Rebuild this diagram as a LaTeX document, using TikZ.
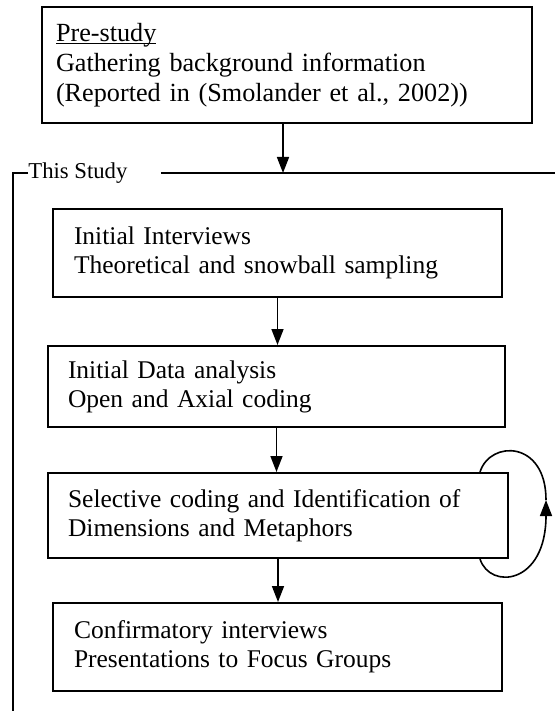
\documentclass[tikz,border=0pt]{standalone}
\usepackage{fontspec}
\setmainfont{Liberation Serif}
\usetikzlibrary{arrows.meta}

% underline close to the baseline
\newcommand{\baseul}[1]{\setbox0\hbox{#1}\rlap{\rule[-1.6pt]{\wd0}{0.6pt}}\box0}

\begin{document}
\begin{tikzpicture}[x=0.5pt, y=-0.5pt,
    stage/.style={draw, line width=1pt, align=left, inner ysep=0pt,
        font=\fontsize{12.75}{14.5}\selectfont},
    flow/.style={line width=0.8pt, -{Triangle[length=8pt, width=6pt]}},
    frame/.style={line width=1pt}]
    \useasboundingbox (0,0) rectangle (555,711);

    % Pre-study
    \node[stage, text width=231pt, inner xsep=7pt, minimum height=58pt,
        font=\fontsize{13.1}{15}\selectfont] (pre) at (287,65)
        {\baseul{Pre-study}\\Gathering background information\\(Reported in (Smolander et al., 2002))};

    % This Study frame
    \node[font=\fontsize{11.35}{13}\selectfont, anchor=west, inner sep=0pt] (study) at (28,173) {This Study};
    \coordinate (frameright) at (555,173);
    \coordinate (framebottom) at (13,711);
    \draw[frame] (study.west) -- (study.west -| framebottom) -- (framebottom);
    \draw[frame] ([xshift=16.5pt]study.east) -- (frameright);

    % Stages
    \node[stage, text width=203.5pt, inner xsep=10.5pt, minimum height=44pt] (interviews) at (277.5,253)
        {Initial Interviews\\Theoretical and snowball sampling};
    \node[stage, text width=208.5pt, inner xsep=10pt, minimum height=40.5pt] (analysis) at (276.5,386.5)
        {Initial Data analysis\\Open and Axial coding};
    \node[stage, text width=210pt, inner xsep=10pt, minimum height=42.5pt] (selective) at (278,515.5)
        {Selective coding and Identification of\\Dimensions and Metaphors};
    \node[stage, text width=203.5pt, inner xsep=10.5pt, minimum height=44pt] (confirm) at (277.5,647)
        {Confirmatory interviews\\Presentations to Focus Groups};

    % Arrows
    \coordinate (entry) at (283,173);
    \draw[flow] (pre.south -| entry) -- (entry);
    \foreach \a/\b in {interviews/analysis, analysis/selective, selective/confirm}
        \draw[flow] (\a.south) -- (\a.south |- \b.north);

    % Iteration loop
    \coordinate (loopx) at (480,0);
    \coordinate (loopmid) at (546,500);
    \draw[flow] (selective.south -| loopx) .. controls (490,590) and (546,585) .. (loopmid);
    \draw[line width=0.8pt] (loopmid) .. controls (546,440) and (490,440) .. (selective.north -| loopx);
\end{tikzpicture}
\end{document}
